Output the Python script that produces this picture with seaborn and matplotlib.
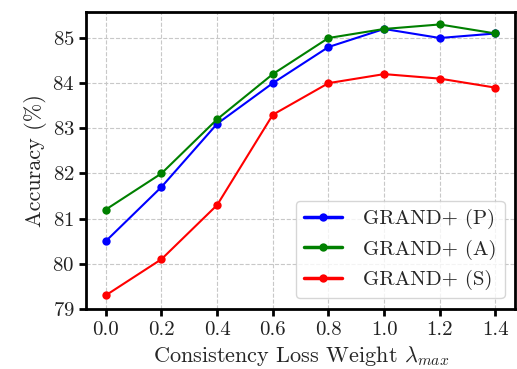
import matplotlib
matplotlib.use("Agg")
import matplotlib.pyplot as plt
import seaborn as sns
import pandas as pd

lam = [0.0, 0.2, 0.4, 0.6, 0.8, 1.0, 1.2, 1.4]
acc_p = [80.5, 81.7, 83.1, 84.0, 84.8, 85.2, 85.0, 85.1]
acc_a = [81.2, 82.0, 83.2, 84.2, 85.0, 85.2, 85.3, 85.1]
acc_s = [79.3, 80.1, 81.3, 83.3, 84.0, 84.2, 84.1, 83.9]
series_names = ["GRAND+ (P)", "GRAND+ (A)", "GRAND+ (S)"]
colors = ["blue", "green", "red"]

sns.set_style("ticks")
plt.rcParams["font.family"] = ["cmr10", "DejaVu Serif"]
plt.rcParams["mathtext.fontset"] = "cm"
plt.rcParams["axes.formatter.use_mathtext"] = True

df = pd.DataFrame({
    "lam": lam * 3,
    "acc": acc_p + acc_a + acc_s,
    "series": sum([[n] * len(lam) for n in series_names], []),
})

fig = plt.figure(figsize=(5.17, 3.69), dpi=100)
ax = fig.add_axes([0.167, 0.163, 0.829, 0.805])
sns.lineplot(data=df, x="lam", y="acc", hue="series", palette=colors,
             marker="o", markersize=6, markeredgewidth=0, linewidth=1.5, ax=ax)

ax.set_ylim(79, 85.58)
ax.set_xlim(-0.07, 1.47)
ax.set_xticks(lam)
ax.set_xticklabels([f"{v:.1f}" for v in lam])
ax.set_yticks([79, 80, 81, 82, 83, 84, 85])
ax.grid(True, linestyle="--", color="#c8c8c8", linewidth=0.8)
for s in ax.spines.values():
    s.set_linewidth(2)
    s.set_color("black")
ax.tick_params(labelsize=15, width=2, length=5, direction="out", colors="black")
for lbl in ax.get_xticklabels() + ax.get_yticklabels():
    lbl.set_color("#222222")
ax.set_xlabel(r"Consistency Loss Weight $\lambda_{max}$", fontsize=16)
ax.set_ylabel("Accuracy (%)", fontsize=16)
leg = ax.legend(loc="lower right", fontsize=15, frameon=True, handlelength=1.8,
                handletextpad=1.0, borderpad=0.4)
leg.get_frame().set_edgecolor("#cccccc")
for line in leg.get_lines():
    line.set_linewidth(2.5)
fig.savefig("out.png", dpi=100)
